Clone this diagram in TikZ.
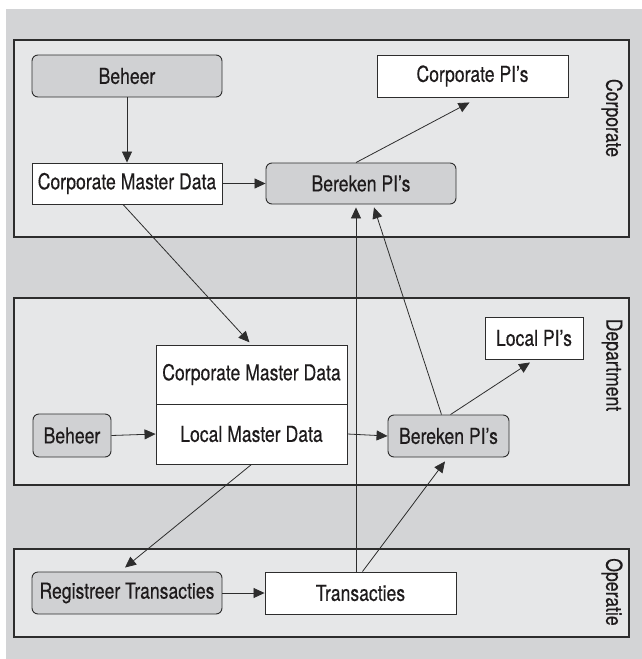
\documentclass[tikz,border=0pt]{standalone}
\usepackage{fontspec}
\setmainfont{TeX Gyre Heros}[FakeStretch=0.80, FakeBold=0.35]
\definecolor{bggray}{RGB}{211,212,214}
\definecolor{bandgray}{RGB}{230,231,232}
\definecolor{boxgray}{RGB}{208,209,211}
\definecolor{edgegray}{RGB}{45,45,45}
\definecolor{inkblack}{RGB}{30,27,28}
\usetikzlibrary{arrows.meta, positioning}

\tikzset{
  band/.style={draw=edgegray, fill=bandgray, line width=1.2pt},
  procbox/.style={draw=edgegray, fill=boxgray, rounded corners=6pt, line width=0.9pt,
    minimum height=42pt, inner sep=0pt, text=inkblack, font=\fontsize{22}{26}\selectfont},
  databox/.style={draw=edgegray, fill=white, line width=0.9pt,
    minimum height=42pt, inner sep=0pt, text=inkblack, font=\fontsize{22}{26}\selectfont},
  flow/.style={-{Triangle[length=11pt,width=10pt]}, line width=0.8pt, draw=edgegray},
  layerlabel/.style={rotate=-90, text=inkblack, font=\fontsize{22}{26}\selectfont}
}

\begin{document}
\begin{tikzpicture}[x=1pt, y=-1pt]
  \useasboundingbox (0,0) rectangle (642,659);
  \fill[bggray] (6,9) rectangle (642,659);

  % Layers
  \draw[band] (14,40) rectangle (629,237);
  \draw[band] (14,298) rectangle (629,485);
  \draw[band] (14,549) rectangle (629,637);
  \node[layerlabel] (lblcorp) at (612,118) {Corporate};
  \node[layerlabel] (lbldept) at (612,365) {Department};
  \node[layerlabel] (lbloper) at (612,592) {Operatie};

  % Corporate
  \node[procbox, minimum width=190pt] (beheerC) at (127,76) {Beheer};
  \node[databox, minimum width=191pt] (corppi) at (472.5,76) {Corporate PI’s};
  \node[databox, minimum width=190pt, minimum height=41pt] (cmdC) at (127,183.5) {Corporate Master Data};
  \node[procbox, minimum width=190pt, minimum height=41pt] (berekenC) at (361,183.5) {Bereken PI’s};

  % Department
  \node[databox, minimum width=191pt, minimum height=59pt] (cmdD) at (251.5,374.5) {Corporate Master Data};
  \node[databox, minimum width=191pt, minimum height=60pt] (lmdD) at (251.5,434) {Local Master Data};
  \node[procbox, minimum width=78pt, minimum height=43pt] (beheerD) at (72,435.5) {Beheer};
  \node[procbox, minimum width=121pt] (berekenD) at (448.5,436) {Bereken PI’s};
  \node[databox, minimum width=98pt] (localpi) at (534,338) {Local PI’s};

  % Operatie
  \node[procbox, minimum width=190pt] (registreer) at (127,593) {Registreer Transacties};
  \node[databox, minimum width=191pt] (transacties) at (360.5,593) {Transacties};

  % Flows
  \draw[flow] (beheerC.south) -- (cmdC.north);
  \draw[flow] (cmdC.east) -- (berekenC.west);
  \draw[flow] ([xshift=-5]berekenC.north) -- ([xshift=-3,yshift=-5]corppi.south);
  \draw[flow, shorten >=3pt] ([xshift=-4]cmdC.south) -- (cmdD.north);
  \draw[flow] ([xshift=-7]berekenD.north) -- ([xshift=13,yshift=-3]berekenC.south);
  \draw[flow] ([xshift=-4.5]transacties.north) -- ([xshift=-5,yshift=-3]berekenC.south);
  \draw[flow] ([xshift=2]berekenD.north) -- ([xshift=-4,yshift=-3]localpi.south);
  \draw[flow] (beheerD.east) -- (lmdD.west);
  \draw[flow] (lmdD.east) -- (berekenD.west);
  \draw[flow] ([xshift=2]transacties.north) -- ([xshift=-3.5,yshift=-4]berekenD.south);
  \draw[flow] (lmdD.south) -- ([xshift=-2,yshift=4]registreer.north);
  \draw[flow] (registreer.east) -- (transacties.west);
\end{tikzpicture}
\end{document}
